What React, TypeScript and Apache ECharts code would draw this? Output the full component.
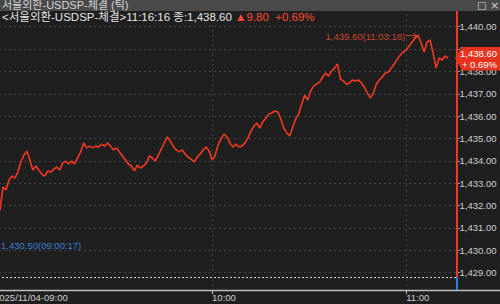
import React, { useEffect, useRef } from "react";
import * as echarts from "echarts";

// Tick prices (sampled along the visible window)
const prices: number[] = [
  1432.2, 1432.0, 1431.8, 1432.83, 1432.7, 1433.14, 1433.32, 1433.23, 1433.5, 1433.95,
  1434.26, 1434.44, 1434.04, 1433.59, 1433.77, 1433.59, 1433.41, 1433.32, 1433.55, 1433.5,
  1433.63, 1433.72, 1433.59, 1433.9, 1433.99, 1433.86, 1433.99, 1433.86, 1434.13, 1434.4,
  1434.8, 1434.58, 1434.66, 1434.58, 1434.66, 1434.62, 1434.75, 1434.66, 1434.8, 1434.66,
  1434.49, 1434.58, 1434.4, 1434.22, 1434.04, 1433.86, 1433.77, 1433.55, 1433.81, 1433.68,
  1433.77, 1433.9, 1434.22, 1434.13, 1433.99, 1434.26, 1434.53, 1434.8, 1435.07, 1434.89,
  1434.66, 1434.49, 1434.4, 1434.49, 1434.31, 1434.17, 1434.08, 1433.95, 1434.17, 1434.31,
  1434.49, 1434.62, 1434.44, 1434.04, 1434.22, 1434.71, 1434.98, 1435.2, 1435.07, 1434.8,
  1434.62, 1434.75, 1434.62, 1434.66, 1434.8, 1435.02, 1435.33, 1435.56, 1435.69, 1435.47,
  1435.74, 1435.92, 1436.1, 1436.14, 1436.23, 1436.19, 1435.87, 1435.47, 1435.25, 1435.11,
  1435.51, 1435.87, 1436.1, 1436.54, 1436.94, 1436.72, 1437.12, 1437.34, 1437.43, 1437.52,
  1437.75, 1437.93, 1437.79, 1438.02, 1438.15, 1438.33, 1437.66, 1437.57, 1437.43, 1437.48,
  1437.62, 1437.57, 1437.62, 1437.48, 1437.3, 1437.03, 1436.81, 1437.03, 1437.43, 1437.62,
  1437.75, 1437.93, 1437.97, 1438.15, 1438.33, 1438.55, 1438.73, 1438.87, 1438.96, 1439.14,
  1439.32, 1439.49, 1439.6, 1439.27, 1438.87, 1439.32, 1439.41, 1438.82, 1438.15, 1438.6,
  1438.51, 1438.69, 1438.6,
];

const tickIndex = [0, 73, 138];
const tickLabels = ["2025/11/04-09:00", "10:00", "11:00"];
const totalSlots = 156;

const prevClose = 1428.8;
const lastTime = "11:16:16";
const highTime = "11:03:18";
const lowValue = 1430.5;
const lowTime = "09:00:17";
const yMin = 1428;
const yMax = 1441;

const windowTitle = "서울외환-USDSP-체결 (틱)";
const seriesName = "서울외환-USDSP-체결";

const fmt = (v: number) =>
  v.toLocaleString("en-US", { minimumFractionDigits: 2, maximumFractionDigits: 2 });

const FONT = "'Liberation Sans', 'Noto Sans CJK KR', sans-serif";
const RED = "#f23a20";
const BLUE = "#2f7fe0";
const BG = "#1f1f1f";

export default function App() {
  const ref = useRef<HTMLDivElement>(null);

  useEffect(() => {
    const chart = echarts.init(ref.current!, null, { renderer: "svg" });
    const categories = Array.from({ length: totalSlots }, (_, i) => {
      const k = tickIndex.indexOf(i);
      return k >= 0 ? tickLabels[k] : "";
    });
    const isTick = (i: number) => tickIndex.includes(i);
    const last = prices[prices.length - 1];
    const change = last - prevClose;
    const pct = (change / prevClose) * 100;
    const high = Math.max(...prices);
    const highIdx = prices.indexOf(high);

    chart.setOption({
      animation: false,
      backgroundColor: BG,
      grid: {
        left: -6,
        right: 43,
        top: 4.34,
        bottom: 8.94,
        containLabel: false,
        outerBoundsMode: "none",
      },
      xAxis: {
        type: "category",
        data: categories,
        boundaryGap: false,
        offset: -5,
        axisLine: { show: false },
        axisTick: {
          show: true,
          interval: (i: number) => isTick(i) && i > 0,
          length: 4,
          lineStyle: { color: "#bdbdbd" },
        },
        axisLabel: {
          interval: (i: number) => isTick(i),
          align: "left",
          color: "#cfcfcf",
          fontSize: 9.5,
          fontFamily: FONT,
          margin: 2.5,
        },
        splitLine: {
          show: true,
          interval: (i: number) => isTick(i) && i > 0,
          lineStyle: { color: "#444444", type: [2, 3], width: 1 },
        },
      },
      yAxis: {
        type: "value",
        position: "right",
        min: yMin,
        max: yMax,
        interval: 1,
        axisLine: { show: false },
        axisTick: { show: true, length: 3, lineStyle: { color: "#9a9a9a" } },
        axisLabel: {
          color: "#cfcfcf",
          fontSize: 9.5,
          fontFamily: FONT,
          margin: 2.5,
          formatter: (v: number) => (v === yMin || v === yMax ? "" : fmt(v)),
        },
        splitLine: {
          show: true,
          showMinLine: false,
          showMaxLine: false,
          lineStyle: { color: "#444444", type: [2, 3], width: 1 },
        },
      },
      series: [
        {
          type: "line",
          name: seriesName,
          data: prices,
          symbol: "none",
          lineStyle: { color: RED, width: 1.6 },
          markLine: {
            silent: true,
            symbol: "none",
            label: { show: false },
            lineStyle: { color: "#d8d8d8", type: [2, 2], width: 1 },
            data: [{ yAxis: prevClose }],
          },
        },
      ],
    });

    const axisX = chart.convertToPixel({ seriesIndex: 0 }, [totalSlots - 1, last])[0];
    const yPrev = chart.convertToPixel({ yAxisIndex: 0 }, prevClose) as number;
    const yLast = chart.convertToPixel({ yAxisIndex: 0 }, last) as number;
    const yLow = chart.convertToPixel({ yAxisIndex: 0 }, lowValue) as number;
    const [px, py] = chart.convertToPixel({ seriesIndex: 0 }, [highIdx, high]);
    const xAxisY = 290.5;

    chart.setOption({
      graphic: [
        { type: "rect", z: 90, shape: { x: axisX, y: xAxisY, width: 60, height: 20 }, style: { fill: BG } },
        { type: "line", z: 100, shape: { x1: 0, y1: xAxisY, x2: 500, y2: xAxisY }, style: { stroke: "#bdbdbd", lineWidth: 1.3 } },
        { type: "line", z: 100, shape: { x1: axisX, y1: 11, x2: axisX, y2: yPrev }, style: { stroke: RED, lineWidth: 2 } },
        { type: "line", z: 100, shape: { x1: axisX, y1: yPrev, x2: axisX, y2: xAxisY - 0.5 }, style: { stroke: BLUE, lineWidth: 2 } },
        { type: "rect", z: 100, shape: { x: 0, y: 0, width: 500, height: 11 }, style: { fill: "#4a4a4a" } },
        {
          type: "text", z: 101, x: 2, y: 5,
          style: { text: windowTitle, fill: "#d4d4d4", font: "11px " + FONT, verticalAlign: "middle" },
        },
        { type: "text", z: 101, x: 477, y: 5, style: { text: "□", fill: "#d0d0d0", font: "10px 'DejaVu Sans'", verticalAlign: "middle" } },
        { type: "text", z: 101, x: 490, y: 5, style: { text: "×", fill: "#d0d0d0", font: "11px 'DejaVu Sans'", verticalAlign: "middle" } },
        {
          type: "text", z: 101, x: 2, y: 16.5,
          style: {
            text:
              "{w|<" + seriesName + ">" + lastTime + " 종:" + fmt(last) + " }" +
              "{r|▲" + fmt(change) + "  " + (change >= 0 ? "+" : "") + pct.toFixed(2) + "%}",
            verticalAlign: "middle",
            rich: {
              w: { fill: "#e6e6e6", font: "11.5px " + FONT },
              r: { fill: "#ff4a32", font: "11.5px " + FONT },
            },
          },
        },
        {
          type: "polygon", z: 102,
          shape: {
            points: [
              [axisX - 2, yLast],
              [axisX + 5, yLast - 11],
              [500, yLast - 11],
              [500, yLast + 12.5],
              [axisX + 5, yLast + 12.5],
            ],
          },
          style: { fill: "#e5331d" },
        },
        {
          type: "text", z: 103, x: 497, y: yLast - 5,
          style: { text: fmt(last), fill: "#ffffff", font: "9.5px " + FONT, align: "right", verticalAlign: "middle" },
        },
        {
          type: "text", z: 103, x: 497, y: yLast + 6,
          style: { text: (change >= 0 ? "+ " : "") + pct.toFixed(2) + "%", fill: "#ffffff", font: "9.5px " + FONT, align: "right", verticalAlign: "middle" },
        },
        {
          type: "text", z: 101, x: px - 13, y: py + 0.5,
          style: { text: fmt(high) + "(" + highTime + ")", fill: "#c8452f", font: "9.5px " + FONT, align: "right", verticalAlign: "middle" },
        },
        { type: "line", z: 101, shape: { x1: px - 12, y1: py, x2: px - 1, y2: py }, style: { stroke: "#c8452f", lineWidth: 1 } },
        { type: "polyline", z: 101, shape: { points: [[px - 5, py - 2.5], [px - 1, py], [px - 5, py + 2.5]] }, style: { stroke: "#c8452f", lineWidth: 1, fill: null } },
        {
          type: "text", z: 101, x: 1, y: yLow + 2,
          style: { text: fmt(lowValue) + "(" + lowTime + ")", fill: "#3d7ed6", font: "9.5px " + FONT, verticalAlign: "top" },
        },
      ],
    });

    return () => chart.dispose();
  }, []);

  return <div ref={ref} style={{ position: "fixed", left: 0, top: 0, width: 500, height: 304 }} />;
}
